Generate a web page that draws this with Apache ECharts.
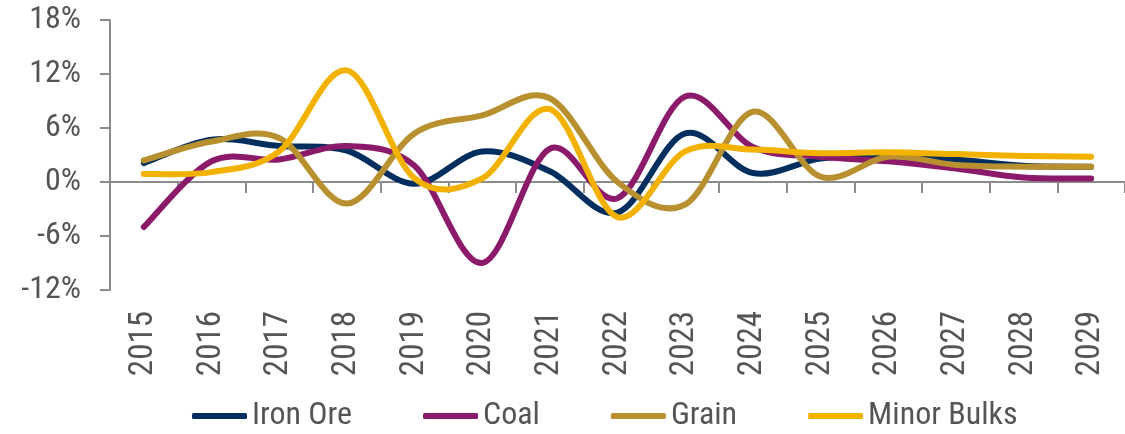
<!DOCTYPE html>
<html>
<head>
<meta charset="utf-8">
<script src="https://cdn.jsdelivr.net/npm/echarts@6/dist/echarts.min.js"></script>
<style>
  html, body { margin: 0; padding: 0; background: #ffffff; }
  #chart { width: 1125px; height: 434px; }
</style>
</head>
<body>
<div id="chart"></div>
<script>
// Annual growth of dry bulk trade by commodity, in %
const years = ['2015', '2016', '2017', '2018', '2019', '2020', '2021', '2022',
               '2023', '2024', '2025', '2026', '2027', '2028', '2029'];
const ironOre    = [2.1, 4.7, 4.0, 3.5, -0.2, 3.4, 1.2, -3.4, 5.4, 1.0, 2.6, 3.0, 2.5, 1.8, 1.7];
const coal       = [-5.0, 2.3, 2.5, 4.0, 1.8, -9.0, 3.7, -1.8, 9.5, 3.9, 2.8, 2.3, 1.5, 0.5, 0.4];
const grain      = [2.4, 4.5, 4.9, -2.4, 5.4, 7.4, 9.3, 0.0, -2.5, 7.8, 0.6, 2.8, 1.9, 1.7, 1.7];
const minorBulks = [0.9, 1.1, 3.4, 12.4, 0.4, 0.4, 8.1, -3.9, 3.4, 3.6, 3.2, 3.3, 3.1, 2.9, 2.8];
const seriesNames = ['Iron Ore', 'Coal', 'Grain', 'Minor Bulks'];
const yTicks = { min: -12, max: 18, step: 6 };

const FONT = '"Roboto Condensed", "Liberation Sans Narrow", sans-serif';
const AXIS_GREY = '#8c8c8c';
const TEXT_GREY = '#555555';

// Catmull-Rom spline through the projected points, written as cubic Beziers
function splinePath(pts) {
  let d = 'M' + pts[0][0] + ' ' + pts[0][1];
  for (let i = 0; i < pts.length - 1; i++) {
    const p0 = pts[i - 1] || pts[i];
    const p1 = pts[i];
    const p2 = pts[i + 1];
    const p3 = pts[i + 2] || pts[i + 1];
    const c1x = p1[0] + (p2[0] - p0[0]) / 6;
    const c1y = p1[1] + (p2[1] - p0[1]) / 6;
    const c2x = p2[0] - (p3[0] - p1[0]) / 6;
    const c2y = p2[1] - (p3[1] - p1[1]) / 6;
    d += ' C' + c1x + ' ' + c1y + ' ' + c2x + ' ' + c2y + ' ' + p2[0] + ' ' + p2[1];
  }
  return d;
}

function splineSeries(name, values, color) {
  return {
    name: name,
    type: 'custom',
    xAxisIndex: 0,
    yAxisIndex: 0,
    data: values.map(function (v, i) { return [i, v]; }),
    encode: { x: 0, y: 1 },
    itemStyle: { color: color },
    renderItem: function (params, api) {
      // the whole curve is drawn once, with the first item
      if (params.dataIndex !== 0) return null;
      const pts = values.map(function (v, i) { return api.coord([i, v]); });
      return {
        type: 'path',
        shape: { pathData: splinePath(pts) },
        style: { fill: 'none', stroke: color, lineWidth: 6, lineCap: 'round', lineJoin: 'round' },
        silent: true
      };
    }
  };
}

const chart = echarts.init(document.getElementById('chart'), null, { renderer: 'canvas' });
chart.setOption({
  animation: false,
  backgroundColor: '#ffffff',
  textStyle: { fontFamily: FONT },
  grid: { left: 110, right: -4, top: 20, bottom: 144, containLabel: false },
  legend: {
    left: 192,
    top: 400,
    padding: 0,
    icon: 'roundRect',
    itemWidth: 55,
    itemHeight: 6,
    itemGap: 71,
    textStyle: { fontFamily: FONT, fontSize: 32, color: TEXT_GREY },
    data: seriesNames
  },
  xAxis: [
    {
      // zero line with boundary ticks
      type: 'category',
      data: years,
      boundaryGap: true,
      axisLine: { show: true, onZero: true, lineStyle: { color: AXIS_GREY, width: 2 } },
      axisTick: { show: true, length: 11, inside: false, lineStyle: { color: AXIS_GREY, width: 2 } },
      axisLabel: { show: false },
      splitLine: { show: false }
    },
    {
      // year labels along the bottom
      type: 'category',
      data: years,
      position: 'bottom',
      boundaryGap: true,
      axisLine: { show: false, onZero: false },
      axisTick: { show: false },
      axisLabel: {
        show: true, rotate: 90, margin: 21, interval: 0,
        fontFamily: FONT, fontSize: 33, color: TEXT_GREY
      },
      splitLine: { show: false }
    }
  ],
  yAxis: {
    type: 'value',
    min: yTicks.min,
    max: yTicks.max,
    interval: yTicks.step,
    axisLine: { show: true, lineStyle: { color: AXIS_GREY, width: 2 } },
    axisTick: { show: true, length: 10, inside: false, lineStyle: { color: AXIS_GREY, width: 2 } },
    axisLabel: {
      formatter: '{value}%', margin: 29,
      fontFamily: FONT, fontSize: 32, color: TEXT_GREY
    },
    splitLine: { show: false }
  },
  series: [
    splineSeries(seriesNames[0], ironOre, '#002f5f'),
    splineSeries(seriesNames[1], coal, '#8b1a6b'),
    splineSeries(seriesNames[2], grain, '#b8902f'),
    splineSeries(seriesNames[3], minorBulks, '#f3b200')
  ]
});
</script>
</body>
</html>
